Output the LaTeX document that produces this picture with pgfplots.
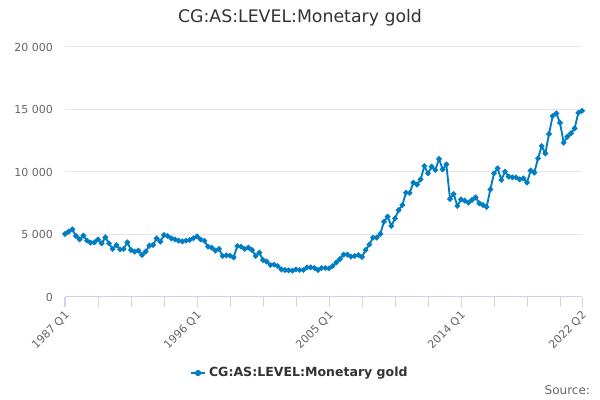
\documentclass[border=0pt]{standalone}
\usepackage{pgfplots}
\pgfplotsset{compat=1.18}
\usepackage{fontspec}
\setmainfont{DejaVu Sans}
\definecolor{linecol}{RGB}{0,125,195}
\definecolor{axcol}{RGB}{204,214,235}
\definecolor{gridcol}{RGB}{230,230,230}
\definecolor{labcol}{RGB}{102,102,102}
\definecolor{titcol}{RGB}{51,51,51}
\pgfplotstableread{
i v
0 5040
1 5230
2 5410
3 4880
4 4610
5 4910
6 4510
7 4350
8 4370
9 4610
10 4290
11 4770
12 4290
13 3840
14 4160
15 3810
16 3840
17 4370
18 3760
19 3630
20 3710
21 3360
22 3630
23 4110
24 4160
25 4690
26 4430
27 4960
28 4880
29 4690
30 4610
31 4510
32 4450
33 4510
34 4560
35 4700
36 4850
37 4600
38 4500
39 4030
40 3950
41 3710
42 3840
43 3280
44 3330
45 3310
46 3170
47 4080
48 4030
49 3840
50 3950
51 3760
52 3280
53 3550
54 2960
55 2830
56 2560
57 2590
58 2480
59 2210
60 2160
61 2130
62 2110
63 2210
64 2160
65 2160
66 2370
67 2370
68 2320
69 2160
70 2320
71 2320
72 2290
73 2480
74 2770
75 3040
76 3390
77 3390
78 3230
79 3280
80 3360
81 3200
82 3760
83 4200
84 4750
85 4750
86 5050
87 6030
88 6430
89 5680
90 6290
91 6950
92 7360
93 8350
94 8320
95 9150
96 9000
97 9410
98 10480
99 9890
100 10430
101 10160
102 11040
103 10210
104 10610
105 7840
106 8240
107 7280
108 7810
109 7710
110 7550
111 7760
112 7970
113 7490
114 7360
115 7200
116 8610
117 9890
118 10290
119 9360
120 10030
121 9630
122 9570
123 9570
124 9410
125 9490
126 9150
127 10110
128 9950
129 11090
130 12080
131 11490
132 13040
133 14480
134 14690
135 13940
136 12340
137 12830
138 13100
139 13490
140 14740
141 14900
}\gold
\begin{document}
\begin{tikzpicture}
\path[use as bounding box, fill=white] (0,0) rectangle (450pt,300pt);
\node[text=titcol, font=\fontsize{13pt}{15pt}\selectfont] at (225pt,286.5pt) {CG:AS:LEVEL:Monetary gold};
\node[text=labcol, font=\fontsize{9pt}{11pt}\selectfont, anchor=east] at (446pt,7.5pt) {Source:};
\begin{axis}[
  at={(48.75pt,77.25pt)}, anchor=south west,
  scale only axis, width=387.75pt, height=187.5pt,
  xmin=0, xmax=141, ymin=0, ymax=20000,
  scaled y ticks=false,
  axis x line*=bottom, axis y line*=left,
  y axis line style={draw=none},
  x axis line style={color=axcol, line width=0.75pt},
  xtick={0,36,72,108,141},
  xticklabels={1987 Q1,1996 Q1,2005 Q1,2014 Q1,2022 Q2},
  minor xtick={9,18,27,45,54,63,81,90,99,117,126,135},
  ytick={0,5000,10000,15000,20000},
  yticklabels={0,5 000,10 000,15 000,20 000},
  tick align=outside,
  x tick style={color=axcol, line width=0.75pt},
  minor x tick style={color=axcol, line width=0.75pt},
  y tick style={draw=none},
  xtick pos=bottom,
  major tick length=7.5pt,
  minor tick length=7.5pt,
  ymajorgrids, grid style={color=gridcol, line width=0.75pt},
  ticklabel style={text=labcol, font=\fontsize{8.25pt}{10pt}\selectfont},
  xticklabel style={rotate=45, anchor=north east, inner sep=1pt, xshift=-1pt},
  yticklabel style={anchor=east, xshift=2pt},
  legend style={at={(0.4545,-0.304)}, anchor=center, draw=none, fill=none,
    font=\fontsize{9.4pt}{11pt}\selectfont\bfseries, text=titcol},
  legend cell align=left,
  legend image code/.code={
    \draw[linecol, line width=1.5pt] (0pt,0pt) -- (11pt,0pt);
    \fill[linecol] (5.5pt,0pt) circle (1.6pt);
  },
]
\addplot[color=linecol, line width=1.4pt, mark=*, mark size=1.3pt, mark options={fill=linecol, draw=linecol}] table[x=i, y=v] {\gold};
\addlegendentry{CG:AS:LEVEL:Monetary gold}
\end{axis}
\end{tikzpicture}
\end{document}
